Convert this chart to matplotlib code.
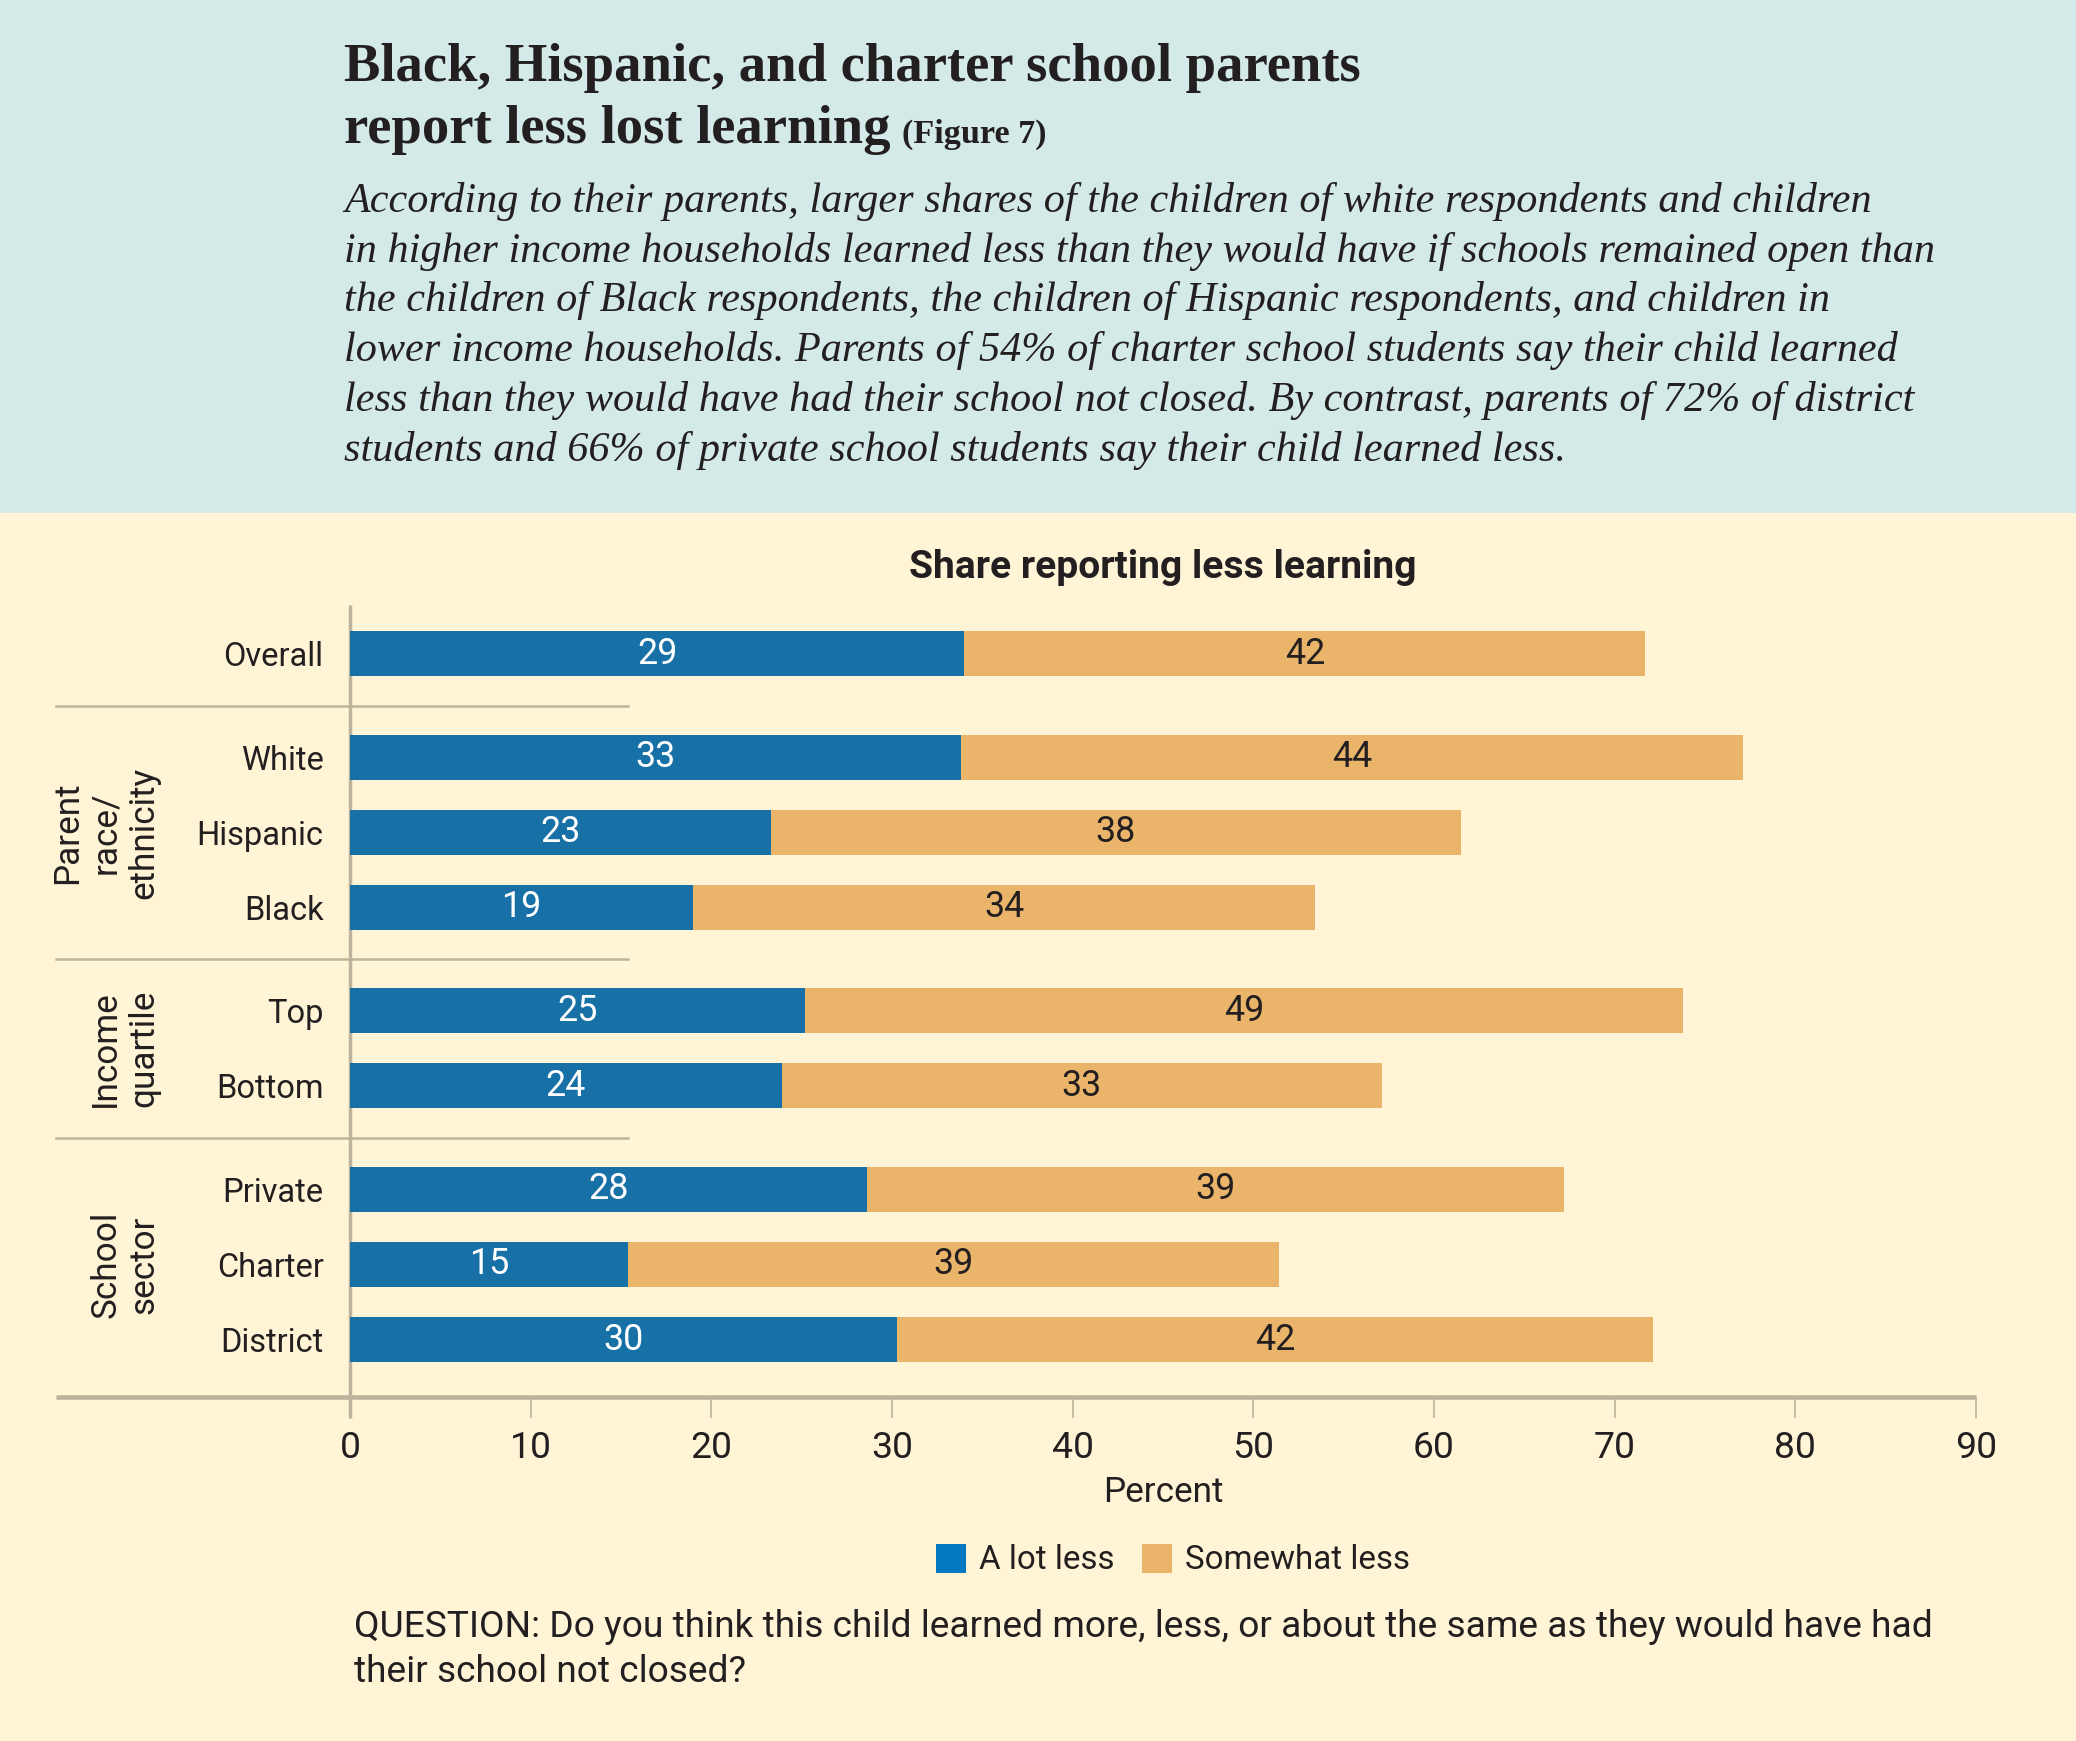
import matplotlib
matplotlib.use("Agg")
import matplotlib.pyplot as plt
from matplotlib.patches import Rectangle, Patch

# ---------------- data ----------------
categories = ['Overall', 'White', 'Hispanic', 'Black', 'Top', 'Bottom',
              'Private', 'Charter', 'District']
group_names = ['', 'Parent\nrace/\nethnicity', 'Income\nquartile', 'School\nsector']
group_sizes = [1, 3, 2, 3]
a_lot_bar = [34.0, 33.8, 23.3, 19.0, 25.2, 23.9, 28.6, 15.4, 30.3]
somewhat_bar = [37.7, 43.3, 38.2, 34.4, 48.6, 33.2, 38.6, 36.0, 41.8]
a_lot_labels = ['29', '33', '23', '19', '25', '24', '28', '15', '30']
somewhat_labels = ['42', '44', '38', '34', '49', '33', '39', '39', '42']
xticks = [0, 10, 20, 30, 40, 50, 60, 70, 80, 90]
series_names = ['A lot less', 'Somewhat less']

title_l1 = 'Black, Hispanic, and charter school parents'
title_l2 = 'report less lost learning'
title_fig = '(Figure 7)'
subtitle_lines = [
    'According to their parents, larger shares of the children of white respondents and children',
    'in higher income households learned less than they would have if schools remained open than',
    'the children of Black respondents, the children of Hispanic respondents, and children in',
    'lower income households. Parents of 54% of charter school students say their child learned',
    'less than they would have had their school not closed. By contrast, parents of 72% of district',
    'students and 66% of private school students say their child learned less.',
]
chart_title = 'Share reporting less learning'
xlabel = 'Percent'
question_lines = [
    'QUESTION: Do you think this child learned more, less, or about the same as they would have had',
    'their school not closed?',
]

# ---------------- style ----------------
W, H = 2076, 1741
DPI = 100
BLUE = '#1771a7'
ORANGE = '#eab56b'
LEG_BLUE = '#0079c1'
TEAL = '#d4eae8'
CREAM = '#fff5d6'
DARK = '#231f20'
GRID = '#bcb39d'
SANS = ['Roboto', 'DejaVu Sans']
SERIF = ['Liberation Serif', 'DejaVu Serif']

def fx(px):
    return px / W

def fy(py):
    return 1 - py / H

fig = plt.figure(figsize=(W / DPI, H / DPI), dpi=DPI, facecolor=CREAM)
renderer = fig.canvas.get_renderer()

def fit(text, target_w, **kw):
    t = fig.text(0, 0, text, fontsize=20, **kw)
    w = t.get_window_extent(renderer).width
    t.remove()
    return 20 * target_w / w

fig.add_artist(Rectangle((0, fy(513)), 1, 513 / H, transform=fig.transFigure,
                         facecolor=TEAL, edgecolor='none', zorder=0))

# ---------------- header ----------------
ts = fit(title_l1, 1016, family=SERIF, weight='bold')
fig.text(fx(344), fy(81), title_l1, fontsize=ts, family=SERIF, weight='bold',
         color=DARK, ha='left', va='baseline')
t2 = fig.text(fx(344), fy(143), title_l2, fontsize=ts, family=SERIF, weight='bold',
              color=DARK, ha='left', va='baseline')
x2 = t2.get_window_extent(renderer).x1
fs_fig = fit(title_fig, 145, family=SERIF, weight='bold')
fig.text((x2 + 11) / W, fy(143), title_fig, fontsize=fs_fig, family=SERIF,
         weight='bold', color=DARK, ha='left', va='baseline')

ss = fit(subtitle_lines[1], 1593, family=SERIF, style='italic')
for i, line in enumerate(subtitle_lines):
    fig.text(fx(344), fy(212 + 49.7 * i), line, fontsize=ss, family=SERIF,
             style='italic', color=DARK, ha='left', va='baseline')

# ---------------- chart ----------------
pos = []
y = 0.0
for gi, n in enumerate(group_sizes):
    if gi > 0:
        y += 1.38
    for k in range(n):
        pos.append(y + k)
    y = pos[-1]

ax = fig.add_axes([fx(350), fy(1397), 1626 / W, (1397 - 605) / H])
ax.set_facecolor('none')
y_top = (605 - 654) / 75
y_bot = (1397 - 654) / 75
ax.set_xlim(0, 90)
ax.set_ylim(y_bot, y_top)
for s in ax.spines.values():
    s.set_visible(False)

ax.barh(pos, a_lot_bar, height=0.6, color=BLUE, zorder=3)
ax.barh(pos, somewhat_bar, left=a_lot_bar, height=0.6, color=ORANGE, zorder=3)

vs = fit('23', 40, family=SANS)
for p, a, s, la, ls in zip(pos, a_lot_bar, somewhat_bar, a_lot_labels, somewhat_labels):
    ax.text(a / 2, p, la, color='white', fontsize=vs, family=SANS,
            ha='center', va='center', zorder=4)
    ax.text(a + s / 2, p, ls, color=DARK, fontsize=vs, family=SANS,
            ha='center', va='center', zorder=4)

cs = fit('Hispanic', 127, family=SANS)
ax.set_yticks(pos)
ax.set_yticklabels(categories, fontsize=cs, family=SANS, color=DARK)
ax.tick_params(axis='y', length=0, pad=19)

xs = fit('90', 42, family=SANS)
ax.set_xticks(xticks)
ax.set_xticklabels([str(v) for v in xticks], fontsize=xs, family=SANS, color=DARK)
ax.tick_params(axis='x', length=15, width=1.2, color=GRID, pad=9)

# axis lines
ax.plot([-0.181, 1.0], [y_bot, y_bot], transform=ax.get_yaxis_transform(),
        color=GRID, lw=3.3, clip_on=False, zorder=2, solid_capstyle='butt')
ax.plot([0, 0], [y_top, y_bot + 21 / 75], color=GRID, lw=2.5, clip_on=False,
        zorder=2, solid_capstyle='butt')

# group separators and labels
idx = 0
gl = fit('ethnicity', 132, family=SANS)
for gi, n in enumerate(group_sizes):
    first, last = pos[idx], pos[idx + n - 1]
    if gi < len(group_sizes) - 1:
        sep = (last + pos[idx + n]) / 2
        ax.plot([-0.181, 0.171], [sep, sep], transform=ax.get_yaxis_transform(),
                color=GRID, lw=1.8, clip_on=False, zorder=2)
    if group_names[gi]:
        ax.text(-0.1165, (first + last) / 2, group_names[gi],
                transform=ax.get_yaxis_transform(), rotation=90,
                ha='right', va='center', multialignment='center',
                fontsize=gl, family=SANS, color=DARK, linespacing=1.2)
    idx += n

# chart title and x label
cts = fit(chart_title, 506, family=SANS, weight='bold')
fig.text(fx(1163), fy(567), chart_title, fontsize=cts, family=SANS, weight='bold',
         color=DARK, ha='center', va='center')
pls = fit(xlabel, 120, family=SANS)
fig.text(fx(1163), fy(1493), xlabel, fontsize=pls, family=SANS, color=DARK,
         ha='center', va='center')

# legend
ls_ = fit(series_names[1], 225, family=SANS)
handles = [Patch(facecolor=LEG_BLUE, edgecolor='none'),
           Patch(facecolor=ORANGE, edgecolor='none')]
em = ls_ * DPI / 72
leg = fig.legend(handles, series_names, loc='center', ncol=2,
                 bbox_to_anchor=(fx(1173), fy(1560)), bbox_transform=fig.transFigure,
                 frameon=False, prop={'family': SANS, 'size': ls_},
                 handlelength=30 / em, handleheight=32 / em,
                 handletextpad=13 / em, columnspacing=27 / em, borderpad=0)
for t in leg.get_texts():
    t.set_color(DARK)

# question
qs = fit(question_lines[0], 1574, family=SANS)
for i, line in enumerate(question_lines):
    fig.text(fx(354), fy(1627 + 45 * i), line, fontsize=qs, family=SANS,
             color=DARK, ha='left', va='center')

fig.savefig('out.png', dpi=DPI, facecolor=CREAM)
